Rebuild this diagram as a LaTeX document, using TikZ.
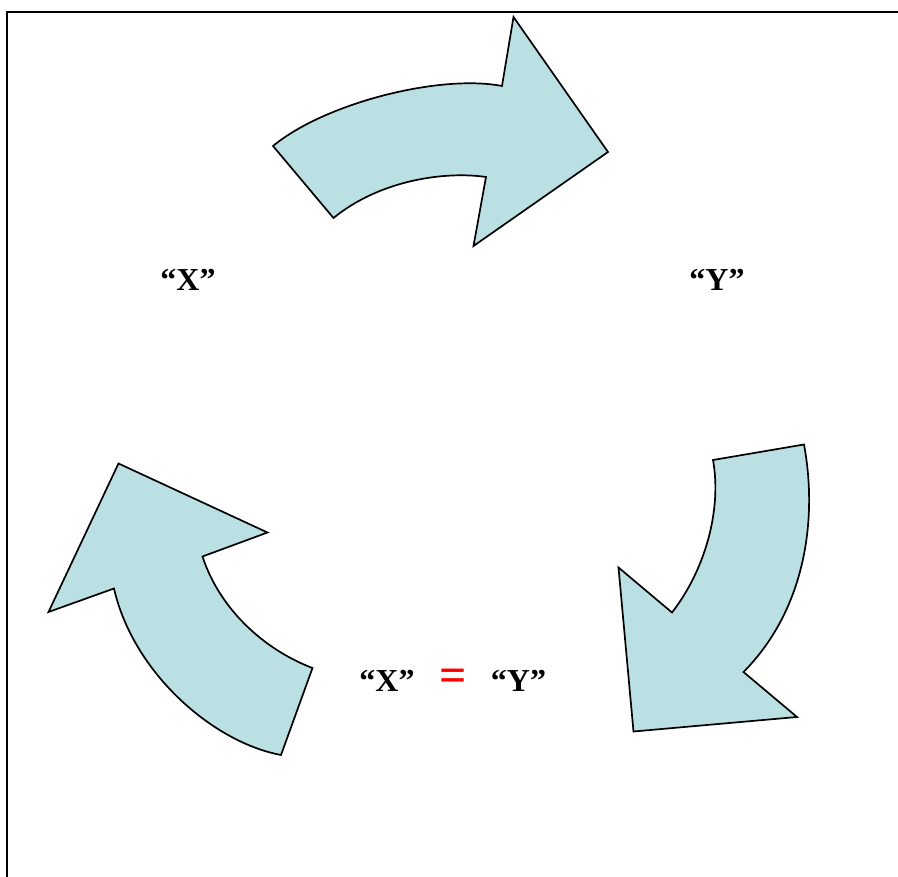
\documentclass[tikz,border=0pt]{standalone}
\usepackage{fontspec}
\setmainfont{Liberation Serif}
\begin{document}
\begin{tikzpicture}[x=1pt,y=-1pt,
  arrowshape/.style={draw=black,line width=1.7pt,fill=arrowfill,line join=miter},
  lbl/.style={font=\fontsize{32}{38}\selectfont\bfseries,anchor=base,inner sep=0pt},
  eqs/.style={font=\fontsize{48}{52}\selectfont\bfseries,text=red,anchor=base,inner sep=0pt}]
\definecolor{arrowfill}{HTML}{BBE0E3}
\useasboundingbox (0,0) rectangle (898,877);
% frame
\draw[line width=2pt] (7,877) -- (7,12) -- (899,12);
% top arrow
\draw[arrowshape] (273,146) .. controls (325,103) and (440,74) .. (502,86)
  -- (513.5,17) -- (608,152) -- (473.5,246) -- (486,177)
  .. controls (445,171) and (380,180) .. (333.5,218) -- cycle;
% right arrow
\draw[arrowshape] (713,460) -- (804,444.5)
  .. controls (818,520) and (805,610) .. (743.5,672)
  -- (797,717) -- (633.5,731.5) -- (618.5,567.5) -- (672,612.5)
  .. controls (705,570) and (722,510) .. cycle;
% left arrow
\draw[arrowshape] (118.5,463.5) -- (267.5,532.5) -- (202.5,556.5)
  .. controls (220,610) and (265,650) .. (312.5,668)
  -- (281,755)
  .. controls (212,742) and (133,672) .. (114,588.5)
  -- (48.5,612) -- cycle;
% labels
\node[lbl] (x1) at (188,291) {“X”};
\node[lbl] (y1) at (717,291) {“Y”};
\node[lbl] (x2) at (387,691.5) {“X”};
\node[eqs] (eq) at (453.5,691) {=};
\node[lbl] (y2) at (518.5,691.5) {“Y”};
\end{tikzpicture}
\end{document}
